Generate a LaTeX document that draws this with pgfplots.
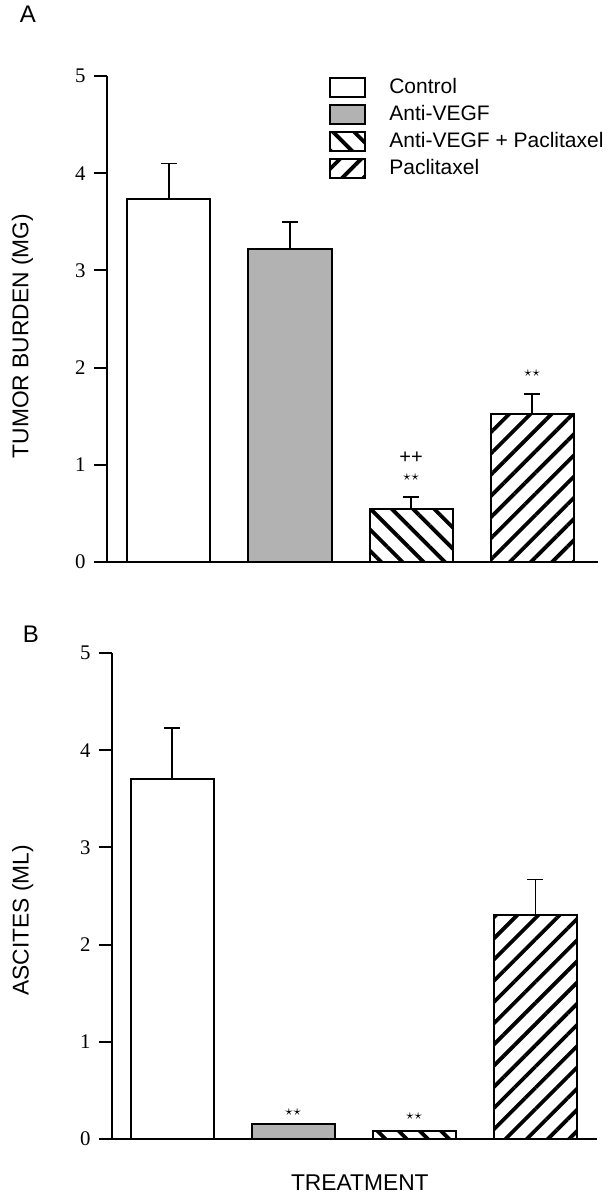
\documentclass[border=0pt]{standalone}
\usepackage{pgfplots}
\pgfplotsset{compat=1.18}
\usetikzlibrary{patterns.meta}
\usepackage{fontspec}
\setmainfont{Liberation Sans}
\newfontfamily\serifnum{Liberation Serif}
\definecolor{avgray}{RGB}{178,178,178}

\pgfplotsset{
  panel/.style={
    scale only axis, height=243pt,
    ymin=0, ymax=5, ytick={0,1,2,3,4,5},
    axis x line*=bottom, axis y line*=left,
    xtick=\empty,
    ybar, bar width=0.686, bar shift=0pt,
    axis line style={line width=1pt},
    major tick length=6.5pt, tick align=outside,
    tick style={line width=1pt, black},
    /pgf/number format/assume math mode=true,
    yticklabel style={font=\serifnum\fontsize{10.4}{12}\selectfont, inner xsep=4pt},
    label style={font=\fontsize{11.4}{13}\selectfont},
    every axis plot/.append style={draw=black, line width=1pt},
    error bars/y dir=plus, error bars/y explicit,
    error bars/error bar style={line width=0.7pt, black},
    error bars/error mark options={rotate=90, mark size=4pt, line width=0.7pt, black},
    legend image code/.code={\draw[#1, line width=1pt] (0pt,-4.75pt) rectangle (17.5pt,4.75pt);},
  },
  hatchNW/.style={pattern={Lines[angle=-45,distance=7.5pt,line width=1.9pt]}},
  hatchNE/.style={pattern={Lines[angle=45,distance=7.5pt,line width=1.9pt]}},
}

\begin{document}
\begin{tikzpicture}
\useasboundingbox (0pt,0pt) rectangle (306.5pt,-599.5pt);

% Panel A
\begin{axis}[panel, width=245.5pt,
  at={(53.5pt,-281pt)}, anchor=south west,
  xmin=-0.512, xmax=3.545,
  ylabel={TUMOR BURDEN (MG)},
  ylabel style={at={(axis description cs:-0.172,0.465)}, anchor=center, rotate=0},
  legend style={draw=none, fill=none, at={(axis description cs:0.452,0.998)}, anchor=north west,
    font=\fontsize{10.5}{12}\selectfont, inner sep=0pt,
    nodes={inner xsep=0pt, inner ysep=0pt, text height=8pt, text depth=2.5pt, anchor=west},
    row sep=3pt,
    /tikz/every odd column/.append style={column sep=11.5pt}},
  legend cell align=left,
]
\addplot[fill=white] coordinates {(0,3.73) +- (0,0.37)};
\addplot[fill=avgray] coordinates {(1,3.22) +- (0,0.28)};
\addplot[hatchNW] coordinates {(2,0.55) +- (0,0.12)};
\addplot[hatchNE] coordinates {(3,1.52) +- (0,0.21)};
\legend{Control, Anti-VEGF, Anti-VEGF + Paclitaxel, Paclitaxel}
\node[font=\fontsize{10}{12}\selectfont] at (axis cs:2,1.07) {++};
\node[font=\fontsize{7}{8}\selectfont] at (axis cs:2,0.87) {$\star\star$};
\node[font=\fontsize{7}{8}\selectfont] at (axis cs:3,1.94) {$\star\star$};
\end{axis}

% Panel B
\begin{axis}[panel, width=242.5pt,
  at={(56pt,-569.5pt)}, anchor=south west,
  xmin=-0.496, xmax=3.51,
  ylabel={ASCITES (ML)},
  ylabel style={at={(axis description cs:-0.184,0.45)}, anchor=center, rotate=0},
  xlabel={TREATMENT},
  xlabel style={at={(axis description cs:0.511,-0.0905)}, anchor=center},
]
\addplot[fill=white] coordinates {(0,3.70) +- (0,0.53)};
\addplot[fill=avgray, error bars/y dir=none] coordinates {(1,0.15)};
\addplot[hatchNW, error bars/y dir=none] coordinates {(2,0.08)};
\addplot[hatchNE] coordinates {(3,2.30) +- (0,0.37)};
\node[font=\fontsize{7}{8}\selectfont] at (axis cs:1,0.28) {$\star\star$};
\node[font=\fontsize{7}{8}\selectfont] at (axis cs:2,0.23) {$\star\star$};
\end{axis}

\node[font=\fontsize{12}{14}\selectfont] at (14pt,-7.25pt) {A};
\node[font=\fontsize{12}{14}\selectfont] at (15.5pt,-317pt) {B};
\end{tikzpicture}
\end{document}
